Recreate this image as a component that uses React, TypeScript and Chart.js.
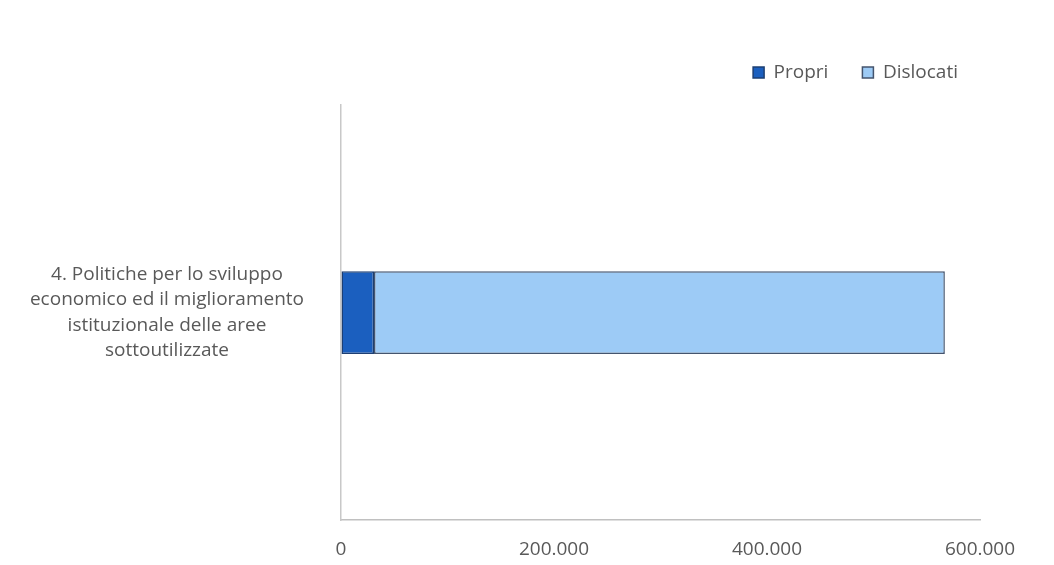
import React, { useEffect, useRef } from "react";
import { Chart, registerables } from "chart.js";

Chart.register(...registerables);

const categories: string[][] = [
  ["4. Politiche per lo sviluppo", "economico ed il miglioramento", "istituzionale delle aree", "sottoutilizzate"],
];
const propri: number[] = [31000];
const dislocati: number[] = [536000];
const xTicks: number[] = [0, 200000, 400000, 600000];

const FONT = "'Open Sans', 'Liberation Sans', sans-serif";
const TEXT = "#595959";

function fmt(v: number): string {
  return String(Math.round(v)).replace(/\B(?=(\d{3})+(?!\d))/g, ".");
}

const legendShift = {
  id: "legendShift",
  afterLayout(chart: any) {
    if (chart.legend) {
      chart.legend.right = chart.legend.right + 12;
    }
  },
};

export default function App() {
  const ref = useRef<HTMLCanvasElement | null>(null);
  useEffect(() => {
    if (!ref.current) return;
    const chart = new Chart(ref.current, {
      type: "bar",
      plugins: [legendShift],
      data: {
        labels: categories,
        datasets: [
          {
            label: "Propri",
            data: propri,
            backgroundColor: "#1b5fbf",
            borderColor: "#1d3f73",
            borderWidth: 1.5,
            borderSkipped: false,
            barPercentage: 0.2,
            categoryPercentage: 1,
          },
          {
            label: "Dislocati",
            data: dislocati,
            backgroundColor: "#9dcbf6",
            borderColor: "#44546e",
            borderWidth: 1.5,
            borderSkipped: false,
            barPercentage: 0.2,
            categoryPercentage: 1,
          },
        ],
      },
      options: {
        indexAxis: "y",
        animation: false,
        responsive: true,
        maintainAspectRatio: false,
        layout: { padding: { top: 21, right: 66, bottom: -23, left: 0 } },
        plugins: {
          legend: {
            position: "top",
            align: "end",
            labels: {
              boxWidth: 11,
              boxHeight: 11,
              padding: 34,
              color: TEXT,
              font: { family: FONT, size: 19 },
            },
          },
          subtitle: {
            display: true,
            text: "",
            weight: 500,
            padding: { top: 0, bottom: 12 },
            font: { size: 1 },
          } as any,
          tooltip: { enabled: false },
        },
        scales: {
          x: {
            stacked: true,
            min: 0,
            max: 600000,
            afterBuildTicks: (s: any) => {
              s.ticks = xTicks.map((v) => ({ value: v }));
            },
            grid: { display: true, drawOnChartArea: false, drawTicks: false },
            border: { display: true, color: "#c0c0c0", width: 1.5 },
            ticks: {
              padding: 20,
              maxRotation: 0,
              color: TEXT,
              font: { family: FONT, size: 19, lineHeight: 1.05 },
              callback: (v: any) => fmt(Number(v)),
            },
          },
          y: {
            stacked: true,
            afterFit: (s: any) => {
              s.width = 333;
              s.paddingTop = 0;
              s.paddingBottom = 0;
            },
            grid: { display: true, drawOnChartArea: false, drawTicks: false },
            border: { display: true, color: "#c8c8c8", width: 1.5 },
            ticks: {
              crossAlign: "center",
              padding: 37,
              color: TEXT,
              font: { family: FONT, size: 19, lineHeight: 1.34 },
            },
          },
        },
      },
    });
    return () => chart.destroy();
  }, []);
  return (
    <div style={{ width: "100%", height: 549, position: "relative" }}>
      <canvas ref={ref} />
    </div>
  );
}
